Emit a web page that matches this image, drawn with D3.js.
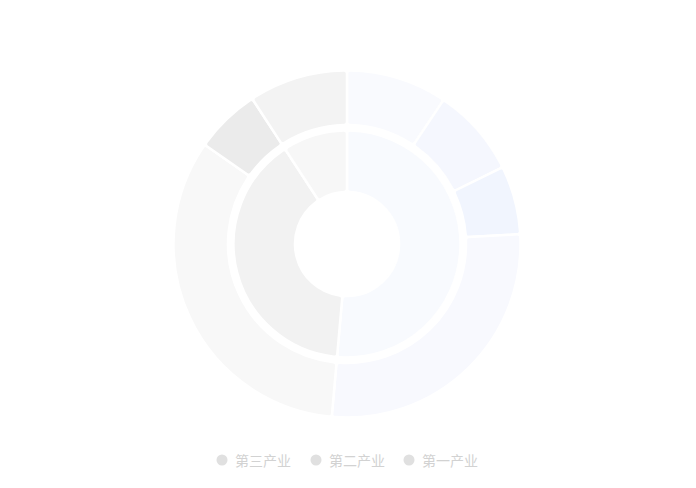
<!DOCTYPE html>
<html><head><meta charset="utf-8">
<script src="https://cdn.jsdelivr.net/npm/d3@7"></script>
<style>body{margin:0;background:#fff;}svg{display:block;}</style>
</head><body>
<svg id="c" width="696" height="488"></svg>
<script>
const categories = ["第三产业", "第二产业", "第一产业"];
const innerValues = [51.4, 39.4, 9.2];
const innerColors = ["#f8fafe", "#f2f2f2", "#f7f7f7"];
const outerNames = ["三-1", "三-2", "三-3", "三-4", "二-1", "二-2", "一-1"];
const outerValues = [9.4, 8.3, 6.4, 27.3, 33.3, 6.1, 9.2];
const outerColors = ["#f9fafe", "#f5f7fe", "#f1f5fe", "#f8f9fe", "#f8f8f8", "#ebebeb", "#f3f3f3"];

const svg = d3.select("#c");
const cx = 347, cy = 244;
const g = svg.append("g").attr("transform", `translate(${cx},${cy})`);
const pie = d3.pie().sort(null).value(d => d.v);

const innerArc = d3.arc().innerRadius(52).outerRadius(113.5).cornerRadius(3);
const outerArc = d3.arc().innerRadius(119).outerRadius(173.5).cornerRadius(3);

g.selectAll(".in").data(pie(innerValues.map((v, i) => ({v, c: innerColors[i]}))))
  .enter().append("path").attr("d", innerArc)
  .attr("fill", d => d.data.c).attr("stroke", "#fff").attr("stroke-width", 2.5);
g.selectAll(".out").data(pie(outerValues.map((v, i) => ({v, c: outerColors[i], n: outerNames[i]}))))
  .enter().append("path").attr("d", outerArc)
  .attr("fill", d => d.data.c).attr("stroke", "#fff").attr("stroke-width", 2.5);

const legendX = d3.scaleOrdinal().domain(categories).range([222, 316, 409]);
const lg = svg.append("g");
categories.forEach(c => {
  lg.append("circle").attr("cx", legendX(c)).attr("cy", 460).attr("r", 5.5).attr("fill", "#e0e0e0");
  lg.append("text").attr("x", legendX(c) + 13).attr("y", 465.5)
    .attr("font-family", "'Noto Sans CJK SC', sans-serif").attr("font-size", 14)
    .attr("fill", "#d2d2d2").text(c);
});
</script>
</body></html>
